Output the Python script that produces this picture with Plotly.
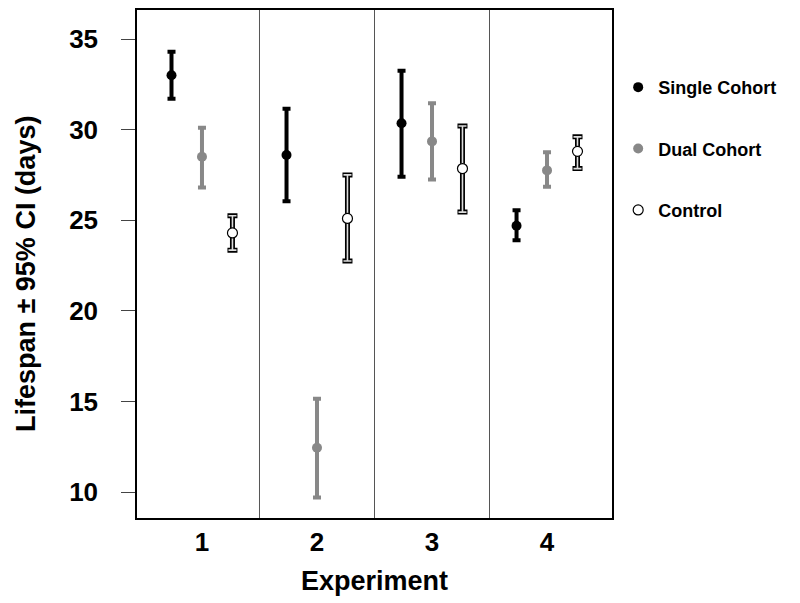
import plotly.graph_objects as go

experiments = [1, 2, 3, 4]

single_mean = [33.0, 28.6, 30.35, 24.7]
single_low = [31.7, 26.05, 27.4, 23.9]
single_high = [34.3, 31.15, 33.25, 25.55]

dual_mean = [28.5, 12.45, 29.35, 27.75]
dual_low = [26.8, 9.7, 27.25, 26.85]
dual_high = [30.1, 15.15, 31.45, 28.75]

control_mean = [24.3, 25.1, 27.85, 28.8]
control_low = [23.35, 22.75, 25.45, 27.85]
control_high = [25.25, 27.5, 30.2, 29.6]

y_ticks = [10, 15, 20, 25, 30, 35]

FONT = "Liberation Sans"
OFFSET = 0.265


def shifted(xs, d):
    return [x + d for x in xs]


def err(mean, low, high):
    return ([h - m for m, h in zip(mean, high)], [m - l for m, l in zip(mean, low)])


fig = go.Figure()

# Single cohort
up, dn = err(single_mean, single_low, single_high)
fig.add_trace(go.Scatter(
    x=shifted(experiments, -OFFSET), y=single_mean, mode="markers", name="Single Cohort",
    legendgroup="s",
    marker=dict(color="black", size=10, symbol="circle"),
    error_y=dict(type="data", symmetric=False, array=up, arrayminus=dn,
                 color="black", thickness=4, width=4),
))

# Dual cohort
up, dn = err(dual_mean, dual_low, dual_high)
fig.add_trace(go.Scatter(
    x=experiments, y=dual_mean, mode="markers", name="Dual Cohort",
    legendgroup="d",
    marker=dict(color="#888888", size=10, symbol="circle"),
    error_y=dict(type="data", symmetric=False, array=up, arrayminus=dn,
                 color="#888888", thickness=4, width=4),
))

# Control (outlined bars)
up, dn = err(control_mean, control_low, control_high)
fig.add_trace(go.Scatter(
    x=shifted(experiments, OFFSET), y=control_mean, mode="markers", showlegend=False,
    legendgroup="c",
    marker=dict(color="rgba(0,0,0,0)", size=1),
    error_y=dict(type="data", symmetric=False, array=up, arrayminus=dn,
                 color="black", thickness=5, width=5),
    hoverinfo="skip",
))
fig.add_trace(go.Scatter(
    x=shifted(experiments, OFFSET), y=control_mean, mode="markers", name="Control",
    legendgroup="c",
    marker=dict(color="white", size=10, symbol="circle", line=dict(color="black", width=1.2)),
    error_y=dict(type="data", symmetric=False, array=up, arrayminus=dn,
                 color="#dddddd", thickness=1.6, width=4),
))

for b in [1.5, 2.5, 3.5]:
    fig.add_shape(type="line", xref="x", yref="paper", x0=b, x1=b, y0=0, y1=1,
                  line=dict(color="#555555", width=1))

fig.add_annotation(
    text="<b>Lifespan ± 95% CI (days)</b>", textangle=-90,
    xref="paper", yref="paper", x=0, y=0.5, xanchor="center", yanchor="middle",
    xshift=-111, yshift=-10, showarrow=False,
    font=dict(family=FONT, size=27, color="black"),
)

fig.update_layout(
    width=800, height=603,
    margin=dict(l=129, r=196, t=0, b=93),
    plot_bgcolor="white", paper_bgcolor="white",
    font=dict(family=FONT, color="black"),
    showlegend=True,
    legend=dict(x=1.013, y=0.884, xanchor="left", yanchor="top",
                font=dict(family=FONT, size=18, color="black", weight="bold"),
                traceorder="grouped", tracegroupgap=35, bgcolor="rgba(0,0,0,0)"),
)

fig.update_xaxes(
    range=[0.435, 4.565], tickmode="array", tickvals=experiments,
    ticktext=[str(e) for e in experiments],
    ticks="", showgrid=False, zeroline=False,
    showline=True, linecolor="black", linewidth=1.5, mirror=True,
    tickfont=dict(family=FONT, size=26, color="black", weight="bold"),
    ticklabelstandoff=0,
    title=dict(text="<b>Experiment</b>", font=dict(family=FONT, size=27, color="black"), standoff=15),
)
fig.update_yaxes(
    range=[8.57, 36.6], tickmode="array", tickvals=y_ticks,
    ticks="outside", ticklen=14, tickcolor="#444444", tickwidth=1,
    showgrid=False, zeroline=False,
    showline=True, linecolor="black", linewidth=1.5, mirror=True,
    tickfont=dict(family=FONT, size=26, color="black", weight="bold"),
    ticklabelstandoff=18,
)

fig.write_html("out.html")
